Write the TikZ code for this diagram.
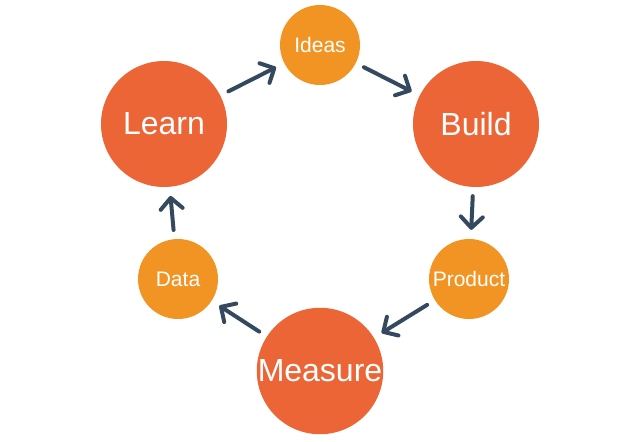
\documentclass[tikz,border=0pt]{standalone}
\usepackage{fontspec}
\setmainfont{Liberation Sans}
\usepackage{tikz}
\usetikzlibrary{arrows.meta,positioning}
\definecolor{bigorange}{RGB}{235,101,54}
\definecolor{smallorange}{RGB}{242,148,36}
\definecolor{slatearr}{RGB}{52,73,94}
\tikzset{
  bigstep/.style={circle, fill=bigorange, minimum size=126pt, inner sep=0pt,
                  text=white, font=\fontsize{32}{36}\selectfont},
  smallstep/.style={circle, fill=smallorange, minimum size=80pt, inner sep=0pt,
                    text=white, font=\fontsize{21}{24}\selectfont},
  looparr/.style={-{Straight Barb[length=11pt, width=22pt, line cap=round, line join=round]},
                  slatearr, line width=4pt, line cap=round, shorten >=9pt, shorten <=9pt},
}
\begin{document}
\begin{tikzpicture}[x=1pt, y=-1pt]
  \useasboundingbox (0,0) rectangle (636,441);
  \node[smallstep] (ideas)   at (320,45)  {Ideas};
  \node[bigstep]   (learn)   at (164,124) {Learn};
  \node[bigstep]   (build)   at (476,124) {Build};
  \node[smallstep] (data)    at (178,279) {Data};
  \node[smallstep] (product) at (469,279) {Product};
  \node[bigstep]   (measure) at (320,371) {Measure};
  % the loop
  \draw[looparr] (learn) -- (ideas);
  \draw[looparr] (ideas) -- (build);
  \draw[looparr] (build) -- (product);
  \draw[looparr] (product) -- (measure);
  \draw[looparr] (measure) -- (data);
  \draw[looparr] (data) -- (learn);
\end{tikzpicture}
\end{document}
